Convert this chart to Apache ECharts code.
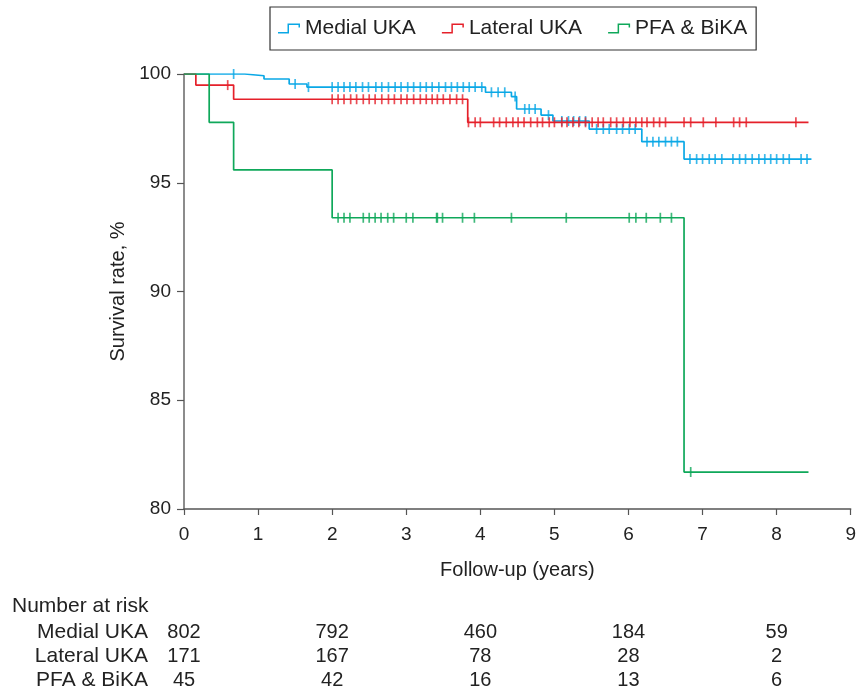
<!DOCTYPE html>
<html>
<head>
<meta charset="utf-8">
<script src="https://cdn.jsdelivr.net/npm/echarts@6/dist/echarts.min.js"></script>
<style>
html,body{margin:0;padding:0;background:#fff;}
#chart{width:859px;height:693px;}
</style>
</head>
<body>
<div id="chart"></div>
<script>
// ---- data ----
const seriesNames = ['Medial UKA', 'Lateral UKA', 'PFA & BiKA'];

const medialTimes = [0, 0.82, 1.08, 1.42, 1.66, 4.07, 4.42, 4.49, 4.82, 4.98, 5.47, 6.18, 6.75];
const medialSurv  = [100, 99.92, 99.77, 99.54, 99.40, 99.16, 98.96, 98.39, 98.11, 97.84, 97.47, 96.89, 96.09];
const medialEnd = 8.47;
const medialCensor = [0.67, 1.50, 1.68, 2.0, 2.08, 2.16, 2.24, 2.32, 2.41, 2.49, 2.59, 2.67, 2.76, 2.85, 2.93,
  3.02, 3.10, 3.19, 3.27, 3.35, 3.44, 3.53, 3.61, 3.69, 3.77, 3.85, 3.93, 4.02, 4.15, 4.24, 4.33, 4.47,
  4.60, 4.66, 4.74, 4.92, 5.10, 5.19, 5.26, 5.34, 5.42, 5.57, 5.66, 5.74, 5.84, 5.92, 6.01, 6.09,
  6.25, 6.33, 6.41, 6.50, 6.58, 6.66, 6.83, 6.92, 7.0, 7.09, 7.17, 7.26, 7.41, 7.50, 7.58, 7.67,
  7.76, 7.84, 7.92, 8.0, 8.09, 8.17, 8.33, 8.41];

const lateralTimes = [0, 0.16, 0.67, 3.83];
const lateralSurv  = [100, 99.49, 98.84, 97.78];
const lateralEnd = 8.43;
const lateralCensor = [0.59, 2.0, 2.08, 2.16, 2.25, 2.33, 2.42, 2.50, 2.58, 2.67, 2.76, 2.84, 2.93, 3.01,
  3.10, 3.19, 3.27, 3.35, 3.42, 3.50, 3.59, 3.68, 3.76, 3.84, 3.93, 4.0, 4.18, 4.26, 4.35, 4.44, 4.51,
  4.59, 4.68, 4.77, 4.84, 4.93, 5.0, 5.10, 5.17, 5.25, 5.33, 5.42, 5.51, 5.59, 5.66, 5.76, 5.84, 5.93,
  6.02, 6.10, 6.18, 6.25, 6.34, 6.42, 6.50, 6.75, 6.84, 7.01, 7.18, 7.42, 7.50, 7.59, 8.26];

const pfaTimes = [0, 0.34, 0.67, 2.0, 6.75];
const pfaSurv  = [100, 97.78, 95.59, 93.39, 81.7];
const pfaEnd = 8.43;
const pfaCensor = [2.08, 2.16, 2.24, 2.42, 2.50, 2.58, 2.66, 2.75, 2.83, 3.0, 3.09, 3.41, 3.42, 3.49,
  3.76, 3.92, 4.42, 5.16, 6.01, 6.10, 6.24, 6.43, 6.58, 6.84];

const riskTimes   = [0, 2, 4, 6, 8];
const riskMedial  = [802, 792, 460, 184, 59];
const riskLateral = [171, 167, 78, 28, 2];
const riskPFA     = [45, 42, 16, 13, 6];

// ---- styles ----
const colors = ['#0aa8e6', '#e5202a', '#0fa85a'];
const FONT = 'Liberation Sans, Arial, sans-serif';

function curve(times, surv, end) {
  const pts = times.map((t, i) => [t, surv[i]]);
  pts.push([end, surv[surv.length - 1]]);
  return pts;
}
function survAt(times, surv, t) {
  let s = surv[0];
  for (let i = 0; i < times.length; i++) if (times[i] <= t) s = surv[i];
  return s;
}
function censorPts(times, surv, cens) {
  return cens.map(t => [t, survAt(times, surv, t)]);
}

const groups = [
  [medialTimes, medialSurv, medialEnd, medialCensor],
  [lateralTimes, lateralSurv, lateralEnd, lateralCensor],
  [pfaTimes, pfaSurv, pfaEnd, pfaCensor]
];

const series = [];
groups.forEach((g, i) => {
  series.push({
    name: seriesNames[i], type: 'line', step: 'end', symbol: 'none',
    data: curve(g[0], g[1], g[2]),
    lineStyle: { color: colors[i], width: 1.7 }, itemStyle: { color: colors[i] },
    z: 2 + i
  });
});
groups.forEach((g, i) => {
  series.push({
    name: seriesNames[i] + ' censored', type: 'scatter', symbol: 'rect', symbolSize: [1.7, 10],
    data: censorPts(g[0], g[1], g[3]),
    itemStyle: { color: colors[i] }, z: 2 + i
  });
});

const stepIcon = 'path://M0,8.5 L9.5,8.5 L9.5,0 L22,0 L22,4 L20.5,4 L20.5,1.5 L11,1.5 L11,10 L0,10 Z';

const chart = echarts.init(document.getElementById('chart'), null, { renderer: 'canvas' });
const option = {
  animation: false,
  backgroundColor: '#fff',
  textStyle: { fontFamily: FONT },
  grid: { left: 184, right: 8, top: 74, bottom: 184, containLabel: false },
  legend: {
    data: seriesNames.map(n => ({ name: n, icon: stepIcon })),
    left: 270, top: 7, width: 500,
    padding: [11, 9, 11, 8],
    itemWidth: 22, itemHeight: 10, itemGap: 26,
    borderColor: '#333', borderWidth: 1.2,
    textStyle: { fontSize: 21, color: '#222', fontFamily: FONT, padding: [0, 0, 0, 0] },
    itemStyle: { borderWidth: 0 }
  },
  xAxis: {
    type: 'value', min: 0, max: 9, interval: 1,
    name: 'Follow-up (years)', nameLocation: 'middle', nameGap: 51,
    nameTextStyle: { fontSize: 20, color: '#222', fontFamily: FONT },
    axisLine: { show: true, onZero: false, lineStyle: { color: '#555', width: 1.5 } },
    axisTick: { show: true, inside: false, length: 6, lineStyle: { color: '#555', width: 1.2 } },
    axisLabel: { fontSize: 19, color: '#222', margin: 16, fontFamily: FONT },
    splitLine: { show: false }
  },
  yAxis: {
    type: 'value', min: 80, max: 100, interval: 5,
    name: 'Survival rate, %', nameLocation: 'middle', nameGap: 56, nameRotate: 90,
    nameTextStyle: { fontSize: 20, color: '#222', fontFamily: FONT },
    axisLine: { show: true, lineStyle: { color: '#666', width: 1.5 } },
    axisTick: { show: true, inside: false, length: 7, lineStyle: { color: '#555', width: 1.2 } },
    axisLabel: { fontSize: 19, color: '#222', margin: 13, fontFamily: FONT },
    splitLine: { show: false }
  },
  series: series
};
chart.setOption(option);

// ---- number-at-risk table ----
const rowY = [632, 656, 680];
const rowData = [riskMedial, riskLateral, riskPFA];
const texts = [{
  type: 'text', x: 12, y: 606,
  style: { text: 'Number at risk', font: '21px ' + FONT, fill: '#222', verticalAlign: 'middle' }
}];
rowData.forEach((vals, r) => {
  texts.push({
    type: 'text', x: 148, y: rowY[r],
    style: { text: seriesNames[r], font: '21px ' + FONT, fill: '#222', align: 'right', verticalAlign: 'middle' }
  });
  vals.forEach((v, c) => {
    const px = chart.convertToPixel({ xAxisIndex: 0 }, riskTimes[c]);
    texts.push({
      type: 'text', x: px, y: rowY[r],
      style: { text: String(v), font: '20px ' + FONT, fill: '#222', align: 'center', verticalAlign: 'middle' }
    });
  });
});
chart.setOption({ graphic: texts });
</script>
</body>
</html>
